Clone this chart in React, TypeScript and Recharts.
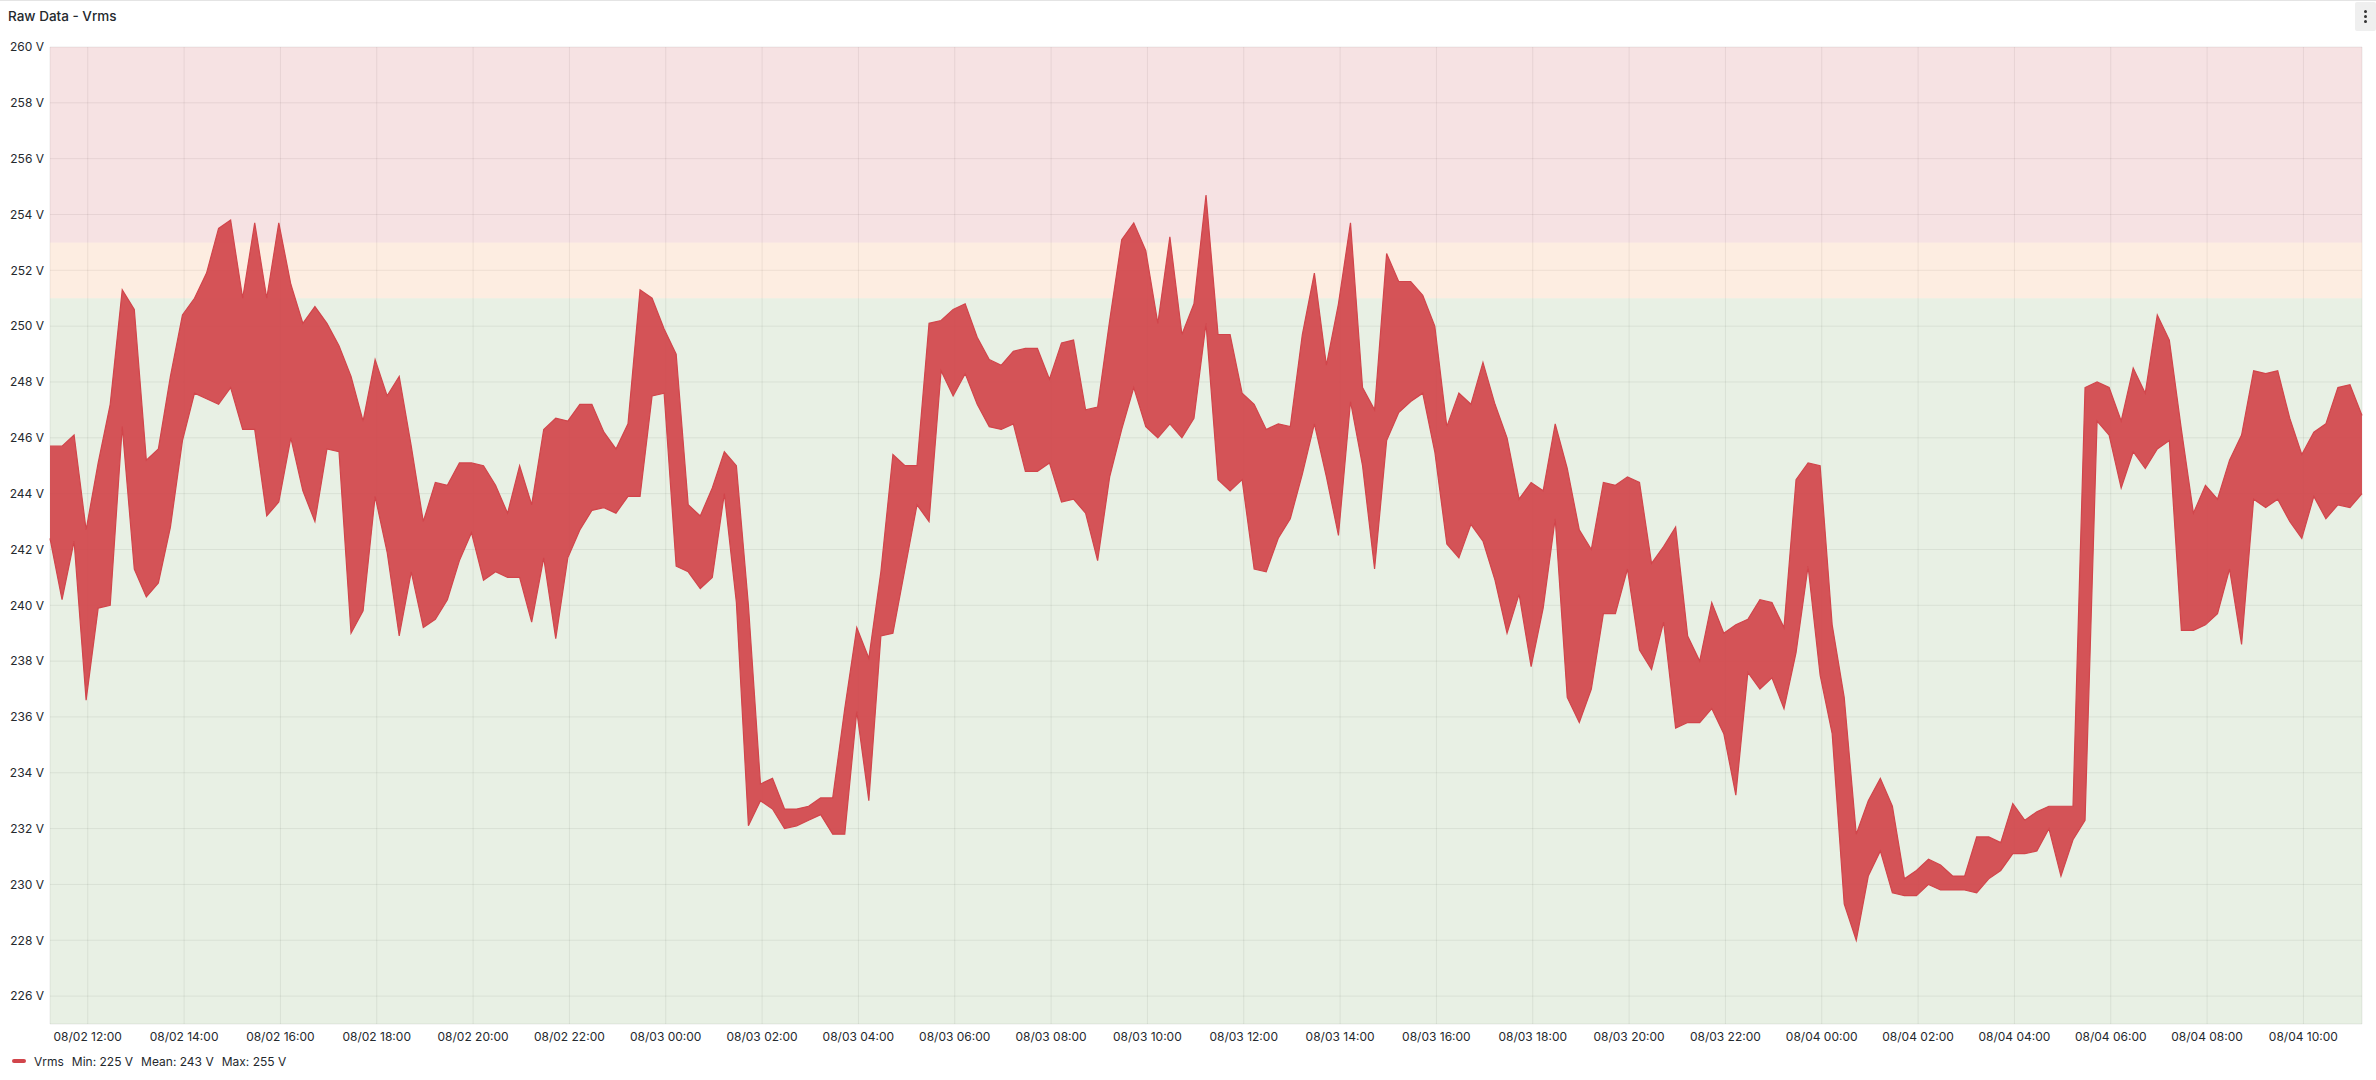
import { Area, CartesianGrid, ComposedChart, ReferenceArea, XAxis, YAxis } from "recharts";

const YEAR = 2024;

const timeTicks = [
  "08/02 12:00", "08/02 14:00", "08/02 16:00", "08/02 18:00", "08/02 20:00", "08/02 22:00",
  "08/03 00:00", "08/03 02:00", "08/03 04:00", "08/03 06:00", "08/03 08:00", "08/03 10:00",
  "08/03 12:00", "08/03 14:00", "08/03 16:00", "08/03 18:00", "08/03 20:00", "08/03 22:00",
  "08/04 00:00", "08/04 02:00", "08/04 04:00", "08/04 06:00", "08/04 08:00", "08/04 10:00",
];

const voltTicks = [226, 228, 230, 232, 234, 236, 238, 240, 242, 244, 246, 248, 250, 252, 254, 256, 258, 260];

const rangeStart = "08/02 11:13";
const rangeEnd = "08/04 11:13";
const sampleStepMinutes = 15;

// min / max of Vrms inside each 15 minute bucket
const vrmsLow = [
  242.4, 240.2, 242.3, 236.6, 239.9, 240.0, 246.4, 241.3, 240.3, 240.8,
  242.8, 245.9, 247.6, 247.4, 247.2, 247.8, 246.3, 246.3, 243.2, 243.7,
  246.0, 244.1, 243.0, 245.6, 245.5, 239.0, 239.8, 243.9, 241.9, 238.9,
  241.2, 239.2, 239.5, 240.2, 241.6, 242.6, 240.9, 241.2, 241.0, 241.0,
  239.4, 241.7, 238.8, 241.7, 242.7, 243.4, 243.5, 243.3, 243.9, 243.9,
  247.5, 247.6, 241.4, 241.2, 240.6, 241.0, 244.0, 240.1, 232.1, 233.0,
  232.7, 232.0, 232.1, 232.3, 232.5, 231.8, 231.8, 236.2, 233.0, 238.9,
  239.0, 241.3, 243.6, 243.0, 248.4, 247.5, 248.3, 247.2, 246.4, 246.3,
  246.5, 244.8, 244.8, 245.1, 243.7, 243.8, 243.3, 241.6, 244.6, 246.3,
  247.8, 246.4, 246.0, 246.5, 246.0, 246.7, 250.1, 244.5, 244.1, 244.5,
  241.3, 241.2, 242.4, 243.1, 244.7, 246.5, 244.6, 242.5, 247.3, 245.0,
  241.3, 245.9, 246.9, 247.3, 247.6, 245.5, 242.2, 241.7, 242.9, 242.3,
  240.9, 239.0, 240.4, 237.8, 239.9, 243.1, 236.7, 235.8, 237.0, 239.7,
  239.7, 241.3, 238.4, 237.7, 239.4, 235.6, 235.8, 235.8, 236.3, 235.4,
  233.2, 237.6, 237.0, 237.4, 236.3, 238.3, 241.4, 237.5, 235.4, 229.3,
  228.0, 230.3, 231.2, 229.7, 229.6, 229.6, 230.0, 229.8, 229.8, 229.8,
  229.7, 230.2, 230.5, 231.1, 231.1, 231.2, 232.0, 230.3, 231.6, 232.3,
  246.6, 246.1, 244.2, 245.5, 244.9, 245.6, 245.9, 239.1, 239.1, 239.3,
  239.7, 241.3, 238.6, 243.8, 243.5, 243.8, 243.0, 242.4, 243.9, 243.1,
  243.6, 243.5, 244.0,
];

const vrmsHigh = [
  245.7, 245.7, 246.1, 242.7, 245.1, 247.2, 251.3, 250.6, 245.2, 245.6,
  248.2, 250.4, 251.0, 251.9, 253.5, 253.8, 251.0, 253.7, 251.0, 253.7,
  251.5, 250.1, 250.7, 250.1, 249.3, 248.2, 246.6, 248.8, 247.5, 248.2,
  245.7, 243.0, 244.4, 244.3, 245.1, 245.1, 245.0, 244.3, 243.3, 245.0,
  243.6, 246.3, 246.7, 246.6, 247.2, 247.2, 246.2, 245.6, 246.5, 251.3,
  251.0, 249.9, 249.0, 243.6, 243.2, 244.2, 245.5, 245.0, 240.0, 233.6,
  233.8, 232.7, 232.7, 232.8, 233.1, 233.1, 236.3, 239.2, 238.1, 241.2,
  245.4, 245.0, 245.0, 250.1, 250.2, 250.6, 250.8, 249.6, 248.8, 248.6,
  249.1, 249.2, 249.2, 248.1, 249.4, 249.5, 247.0, 247.1, 250.2, 253.1,
  253.7, 252.7, 250.1, 253.2, 249.7, 250.8, 254.7, 249.7, 249.7, 247.6,
  247.2, 246.3, 246.5, 246.4, 249.7, 251.9, 248.6, 250.8, 253.7, 247.8,
  247.0, 252.6, 251.6, 251.6, 251.1, 250.0, 246.4, 247.6, 247.2, 248.7,
  247.2, 246.0, 243.8, 244.4, 244.1, 246.5, 244.9, 242.7, 242.0, 244.4,
  244.3, 244.6, 244.4, 241.5, 242.1, 242.8, 238.9, 238.0, 240.1, 239.0,
  239.3, 239.5, 240.2, 240.1, 239.2, 244.5, 245.1, 245.0, 239.3, 236.7,
  231.8, 233.0, 233.8, 232.8, 230.2, 230.5, 230.9, 230.7, 230.3, 230.3,
  231.7, 231.7, 231.5, 232.9, 232.3, 232.6, 232.8, 232.8, 232.8, 247.8,
  248.0, 247.8, 246.6, 248.5, 247.6, 250.4, 249.5, 246.3, 243.3, 244.3,
  243.8, 245.2, 246.1, 248.4, 248.3, 248.4, 246.7, 245.4, 246.2, 246.5,
  247.8, 247.9, 246.8,
];

const legendStats = ["Min: 225 V", "Mean: 243 V", "Max: 255 V"];

const thresholds = [
  { from: 225, to: 251, fill: "rgb(102,155,75)" },
  { from: 251, to: 253, fill: "rgb(242,135,55)" },
  { from: 253, to: 260, fill: "rgb(195,62,68)" },
];

const LINE_COLOR = "#d1454b";
const TEXT_COLOR = "#24292e";
const FONT = "Inter, 'Noto Sans', sans-serif";

const parseTime = (s: string) => {
  const [md, hm] = s.split(" ");
  const [m, d] = md.split("/").map(Number);
  const [h, mi] = hm.split(":").map(Number);
  return Date.UTC(YEAR, m - 1, d, h, mi);
};

const pad = (n: number) => String(n).padStart(2, "0");
const formatTime = (ms: number) => {
  const d = new Date(ms);
  return `${pad(d.getUTCMonth() + 1)}/${pad(d.getUTCDate())} ${pad(d.getUTCHours())}:${pad(d.getUTCMinutes())}`;
};

const startMs = parseTime(rangeStart);
const endMs = parseTime(rangeEnd);

const data = vrmsLow.map((lo, i) => ({
  time: startMs + i * sampleStepMinutes * 60000,
  range: [lo, vrmsHigh[i]],
}));

export default function App() {
  return (
    <div
      style={{
        position: "absolute",
        left: 0,
        top: 0,
        width: 2376,
        height: 1080,
        background: "#fff",
        fontFamily: FONT,
        color: TEXT_COLOR,
        overflow: "hidden",
      }}
    >
      <div style={{ position: "absolute", left: 0, top: 0, width: 2376, height: 1, background: "#e4e4e4" }} />
      <div style={{ position: "absolute", left: 8, top: 6, fontSize: 13.5, fontWeight: 500, lineHeight: "20px" }}>
        Raw Data - Vrms
      </div>
      <div
        style={{
          position: "absolute",
          left: 2355,
          top: 2,
          width: 21,
          height: 29,
          background: "#efefef",
          borderRadius: 2,
          display: "flex",
          flexDirection: "column",
          alignItems: "center",
          justifyContent: "center",
          gap: 2,
        }}
      >
        {[0, 1, 2].map((i) => (
          <div key={i} style={{ width: 3, height: 3, borderRadius: 2, background: "#333" }} />
        ))}
      </div>

      <div style={{ position: "absolute", left: 0, top: 0 }}>
        <ComposedChart width={2376} height={1080} data={data} margin={{ top: 47, right: 14, bottom: 26, left: 0 }}>
          {thresholds.map((t) => (
            <ReferenceArea key={t.from} y1={t.from} y2={t.to} fill={t.fill} fillOpacity={0.15} stroke="none" />
          ))}
          <CartesianGrid stroke="rgba(0,0,0,0.07)" />
          <XAxis
            dataKey="time"
            type="number"
            scale="time"
            domain={[startMs, endMs]}
            ticks={timeTicks.map(parseTime)}
            tickFormatter={formatTime}
            tickLine={false}
            axisLine={false}
            height={30}
            tick={{ fill: TEXT_COLOR, fontSize: 12, fontFamily: FONT }}
            interval={0}
          />
          <YAxis
            type="number"
            domain={[225, 260]}
            ticks={voltTicks}
            tickFormatter={(v) => `${v} V`}
            tickLine={false}
            axisLine={false}
            tickSize={4}
            width={50}
            tick={{ fill: TEXT_COLOR, fontSize: 12, fontFamily: FONT }}
            interval={0}
            allowDataOverflow
          />
          <Area
            dataKey="range"
            type="linear"
            stroke={LINE_COLOR}
            strokeWidth={1.2}
            fill={LINE_COLOR}
            fillOpacity={0.92}
            dot={false}
            activeDot={false}
            isAnimationActive={false}
          />
        </ComposedChart>
      </div>

      <div
        style={{
          position: "absolute",
          left: 12,
          top: 1052,
          height: 18,
          display: "flex",
          alignItems: "center",
          fontSize: 12,
          gap: 8,
        }}
      >
        <div style={{ width: 14, height: 4, borderRadius: 2, background: LINE_COLOR }} />
        <span>Vrms</span>
        {legendStats.map((s) => (
          <span key={s}>{s}</span>
        ))}
      </div>
    </div>
  );
}
